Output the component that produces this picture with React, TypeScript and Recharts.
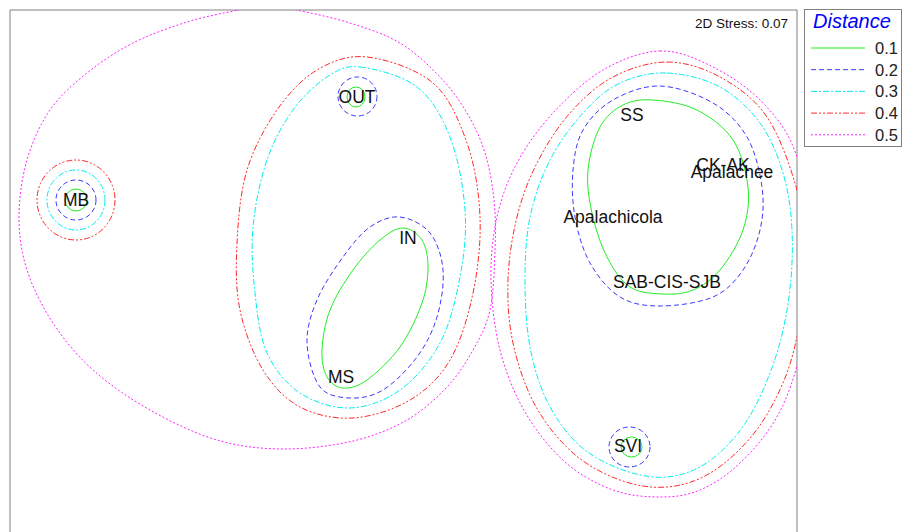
import React from "react";
import { ReferenceArea, Scatter, ScatterChart, XAxis, YAxis } from "recharts";

type Pt = { x: number; y: number };

// plot units: x 10..797 across the frame, y 10..545 downward (frame bottom is cut off)
const LEVELS = ["0.1", "0.2", "0.3", "0.4", "0.5"];

// west group: MB, OUT, IN, MS
const west05: Pt[] = [
  { x: 268, y: 4 }, { x: 297, y: 10 }, { x: 350, y: 23 }, { x: 400, y: 43 }, { x: 440, y: 77 },
  { x: 467, y: 113 }, { x: 485, y: 153 }, { x: 494, y: 200 }, { x: 495, y: 250 }, { x: 490, y: 310 },
  { x: 473, y: 350 }, { x: 447, y: 387 }, { x: 407, y: 420 }, { x: 353, y: 441 }, { x: 283, y: 449 },
  { x: 217, y: 440 }, { x: 150, y: 410 }, { x: 93, y: 370 }, { x: 53, y: 323 }, { x: 27, y: 270 },
  { x: 19, y: 217 }, { x: 27, y: 160 }, { x: 50, y: 110 }, { x: 87, y: 73 }, { x: 133, y: 43 },
  { x: 187, y: 22 }, { x: 238, y: 10 },
];
const west04: Pt[] = [
  { x: 367, y: 57 }, { x: 433, y: 83 }, { x: 467, y: 143 }, { x: 480, y: 217 }, { x: 473, y: 293 },
  { x: 450, y: 360 }, { x: 410, y: 400 }, { x: 353, y: 418 }, { x: 300, y: 407 }, { x: 263, y: 370 },
  { x: 240, y: 310 }, { x: 237, y: 243 }, { x: 247, y: 170 }, { x: 277, y: 110 }, { x: 317, y: 70 },
];
const west03: Pt[] = [
  { x: 360, y: 67 }, { x: 417, y: 87 }, { x: 450, y: 137 }, { x: 465, y: 210 }, { x: 460, y: 277 },
  { x: 440, y: 343 }, { x: 400, y: 390 }, { x: 350, y: 408 }, { x: 300, y: 393 }, { x: 267, y: 353 },
  { x: 255, y: 293 }, { x: 253, y: 227 }, { x: 267, y: 160 }, { x: 293, y: 110 }, { x: 327, y: 77 },
];
const inMs02: Pt[] = [
  { x: 400, y: 217 }, { x: 430, y: 233 }, { x: 443, y: 270 }, { x: 437, y: 317 }, { x: 417, y: 357 },
  { x: 383, y: 390 }, { x: 350, y: 398 }, { x: 320, y: 387 }, { x: 307, y: 343 }, { x: 317, y: 300 },
  { x: 343, y: 257 }, { x: 370, y: 227 },
];
const inMs01: Pt[] = [
  { x: 403, y: 228 }, { x: 422, y: 240 }, { x: 428, y: 267 }, { x: 422, y: 303 }, { x: 400, y: 347 },
  { x: 367, y: 380 }, { x: 343, y: 388 }, { x: 327, y: 377 }, { x: 322, y: 350 }, { x: 330, y: 310 },
  { x: 353, y: 270 }, { x: 380, y: 240 },
];
// small rings: top, right, bottom, left extremes
const out02: Pt[] = [{ x: 357, y: 77 }, { x: 377, y: 97 }, { x: 357, y: 116 }, { x: 338, y: 97 }];
const out01: Pt[] = [{ x: 356, y: 87 }, { x: 365, y: 97 }, { x: 356, y: 107 }, { x: 347, y: 97 }];
const mb04: Pt[] = [{ x: 76, y: 160 }, { x: 115, y: 200 }, { x: 76, y: 240 }, { x: 37, y: 200 }];
const mb03: Pt[] = [{ x: 76, y: 170 }, { x: 105, y: 200 }, { x: 76, y: 230 }, { x: 47, y: 200 }];
const mb02: Pt[] = [{ x: 76, y: 180 }, { x: 96, y: 200 }, { x: 76, y: 220 }, { x: 56, y: 200 }];
const mb01: Pt[] = [{ x: 76, y: 189 }, { x: 87, y: 200 }, { x: 76, y: 211 }, { x: 65, y: 200 }];

// east group: SS, CK-AK, Apalachee, Apalachicola, SAB-CIS-SJB, SVI
const east05: Pt[] = [
  { x: 660, y: 51 }, { x: 713, y: 67 }, { x: 763, y: 103 }, { x: 797, y: 157 }, { x: 815, y: 260 },
  { x: 801, y: 350 }, { x: 778, y: 415 }, { x: 740, y: 463 }, { x: 700, y: 490 }, { x: 660, y: 497 },
  { x: 613, y: 490 }, { x: 565, y: 462 }, { x: 525, y: 412 }, { x: 500, y: 350 }, { x: 491, y: 280 },
  { x: 497, y: 217 }, { x: 517, y: 163 }, { x: 553, y: 113 }, { x: 603, y: 70 },
];
const east04: Pt[] = [
  { x: 667, y: 62 }, { x: 720, y: 77 }, { x: 767, y: 117 }, { x: 797, y: 190 }, { x: 806, y: 255 },
  { x: 800, y: 320 }, { x: 785, y: 378 }, { x: 755, y: 432 }, { x: 712, y: 472 }, { x: 667, y: 487 },
  { x: 620, y: 480 }, { x: 573, y: 453 }, { x: 535, y: 405 }, { x: 513, y: 343 }, { x: 508, y: 280 },
  { x: 517, y: 217 }, { x: 537, y: 163 }, { x: 570, y: 113 }, { x: 613, y: 77 },
];
const east03: Pt[] = [
  { x: 667, y: 73 }, { x: 720, y: 87 }, { x: 760, y: 123 }, { x: 783, y: 173 }, { x: 792, y: 230 },
  { x: 789, y: 297 }, { x: 774, y: 362 }, { x: 746, y: 422 }, { x: 708, y: 462 }, { x: 667, y: 477 },
  { x: 623, y: 470 }, { x: 580, y: 446 }, { x: 548, y: 403 }, { x: 530, y: 347 }, { x: 525, y: 280 },
  { x: 530, y: 217 }, { x: 550, y: 160 }, { x: 583, y: 113 }, { x: 620, y: 83 },
];
const east02: Pt[] = [
  { x: 660, y: 86 }, { x: 713, y: 103 }, { x: 747, y: 137 }, { x: 762, y: 187 }, { x: 760, y: 230 },
  { x: 743, y: 270 }, { x: 713, y: 297 }, { x: 660, y: 306 }, { x: 620, y: 297 }, { x: 590, y: 263 },
  { x: 575, y: 217 }, { x: 573, y: 170 }, { x: 583, y: 130 }, { x: 613, y: 100 },
];
const east01: Pt[] = [
  { x: 653, y: 100 }, { x: 697, y: 110 }, { x: 733, y: 140 }, { x: 748, y: 187 }, { x: 743, y: 230 },
  { x: 720, y: 270 }, { x: 693, y: 290 }, { x: 663, y: 294 }, { x: 630, y: 287 }, { x: 607, y: 257 },
  { x: 592, y: 213 }, { x: 588, y: 170 }, { x: 600, y: 127 }, { x: 623, y: 105 },
];
const svi02: Pt[] = [{ x: 629, y: 427 }, { x: 650, y: 447 }, { x: 629, y: 467 }, { x: 609, y: 447 }];
const svi01: Pt[] = [{ x: 631, y: 437 }, { x: 642, y: 447 }, { x: 631, y: 457 }, { x: 621, y: 447 }];

const sites = [
  { name: "MB", x: 76, y: 200 },
  { name: "OUT", x: 357, y: 97 },
  { name: "IN", x: 408, y: 238 },
  { name: "MS", x: 341, y: 377 },
  { name: "SS", x: 632, y: 115 },
  { name: "CK-AK", x: 723, y: 165 },
  { name: "Apalachee", x: 732, y: 172 },
  { name: "Apalachicola", x: 613, y: 217 },
  { name: "SAB-CIS-SJB", x: 667, y: 282 },
  { name: "SVI", x: 628, y: 446 },
];

const STRESS = "2D Stress: 0.07";

type Contour = { level: string; ring: boolean; data: Pt[] };
const contours: Contour[] = [
  { level: "0.5", ring: false, data: west05 },
  { level: "0.4", ring: false, data: west04 },
  { level: "0.3", ring: false, data: west03 },
  { level: "0.2", ring: false, data: inMs02 },
  { level: "0.1", ring: false, data: inMs01 },
  { level: "0.2", ring: true, data: out02 },
  { level: "0.1", ring: true, data: out01 },
  { level: "0.4", ring: true, data: mb04 },
  { level: "0.3", ring: true, data: mb03 },
  { level: "0.2", ring: true, data: mb02 },
  { level: "0.1", ring: true, data: mb01 },
  { level: "0.5", ring: false, data: east05 },
  { level: "0.4", ring: false, data: east04 },
  { level: "0.3", ring: false, data: east03 },
  { level: "0.2", ring: false, data: east02 },
  { level: "0.1", ring: false, data: east01 },
  { level: "0.2", ring: true, data: svi02 },
  { level: "0.1", ring: true, data: svi01 },
];

const LINE_STYLE: Record<string, { stroke: string; dash?: string }> = {
  "0.1": { stroke: "#22ee22" },
  "0.2": { stroke: "#3a3aff", dash: "5 3" },
  "0.3": { stroke: "#00eeee", dash: "6 2 2 2" },
  "0.4": { stroke: "#ff2a2a", dash: "6 2 2 2 2 2" },
  "0.5": { stroke: "#ff22ff", dash: "2 2" },
};

const FONT = "'Liberation Sans', Arial, sans-serif";

// closed catmull-rom through the points
function closedPath(pts: Pt[]) {
  const n = pts.length;
  let d = `M${pts[0].x},${pts[0].y}`;
  for (let i = 0; i < n; i++) {
    const p0 = pts[(i - 1 + n) % n];
    const p1 = pts[i];
    const p2 = pts[(i + 1) % n];
    const p3 = pts[(i + 2) % n];
    const c1x = p1.x + (p2.x - p0.x) / 6;
    const c1y = p1.y + (p2.y - p0.y) / 6;
    const c2x = p2.x - (p3.x - p1.x) / 6;
    const c2y = p2.y - (p3.y - p1.y) / 6;
    d += ` C${c1x},${c1y} ${c2x},${c2y} ${p2.x},${p2.y}`;
  }
  return d + "Z";
}

function outline(points: Pt[], c: Contour) {
  const st = LINE_STYLE[c.level];
  const common = { fill: "none", stroke: st.stroke, strokeWidth: 1, strokeDasharray: st.dash };
  if (c.ring) {
    const xs = points.map((p) => p.x);
    const ys = points.map((p) => p.y);
    const x0 = Math.min(...xs), x1 = Math.max(...xs);
    const y0 = Math.min(...ys), y1 = Math.max(...ys);
    return <ellipse cx={(x0 + x1) / 2} cy={(y0 + y1) / 2} rx={(x1 - x0) / 2} ry={(y1 - y0) / 2} {...common} />;
  }
  return <path d={closedPath(points)} {...common} />;
}

const noDot = () => <g />;

const siteLabel = (props: any) => (
  <text x={props.cx} y={props.cy} dy="0.36em" textAnchor="middle" fontFamily={FONT} fontSize={17.5} fill="#111">
    {props.payload.name}
  </text>
);

function Legend() {
  return (
    <svg width={903} height={532} style={{ position: "absolute", left: 0, top: 0, pointerEvents: "none" }}>
      <text x={788} y={27.5} textAnchor="end" fontFamily={FONT} fontSize={13.5} fill="#111">
        {STRESS}
      </text>
      <rect x={804.5} y={9.5} width={97} height={137} fill="#fff" stroke="#808080" />
      <text x={813} y={28} fontFamily={FONT} fontSize={20} fontStyle="italic" fill="#0000ff">
        Distance
      </text>
      {LEVELS.map((lv, i) => {
        const y = 48 + i * 21.7;
        const st = LINE_STYLE[lv];
        return (
          <g key={lv}>
            <line x1={811} x2={865} y1={y} y2={y} stroke={st.stroke} strokeDasharray={st.dash} />
            <text x={875} y={y + 6} fontFamily={FONT} fontSize={16.5} fill="#222">
              {lv}
            </text>
          </g>
        );
      })}
    </svg>
  );
}

export default function App() {
  return (
    <div style={{ position: "absolute", left: 0, top: 0, width: 903, height: 532, overflow: "hidden", background: "#fff" }}>
      <ScatterChart width={903} height={545} margin={{ top: 10, right: 106, bottom: 0, left: 10 }}>
        <XAxis type="number" dataKey="x" domain={[10, 797]} allowDataOverflow hide />
        <YAxis type="number" dataKey="y" domain={[10, 545]} reversed allowDataOverflow hide />
        <ReferenceArea x1={10} x2={797} y1={10} y2={545} fill="none" stroke="#808080" strokeWidth={1} ifOverflow="visible" />
        {contours.map((c, i) => (
          <Scatter
            key={i}
            data={c.data}
            isAnimationActive={false}
            shape={noDot}
            line={(p: any) => outline(p.points, c)}
          />
        ))}
        <Scatter data={sites} isAnimationActive={false} shape={siteLabel} />
      </ScatterChart>
      <Legend />
    </div>
  );
}
